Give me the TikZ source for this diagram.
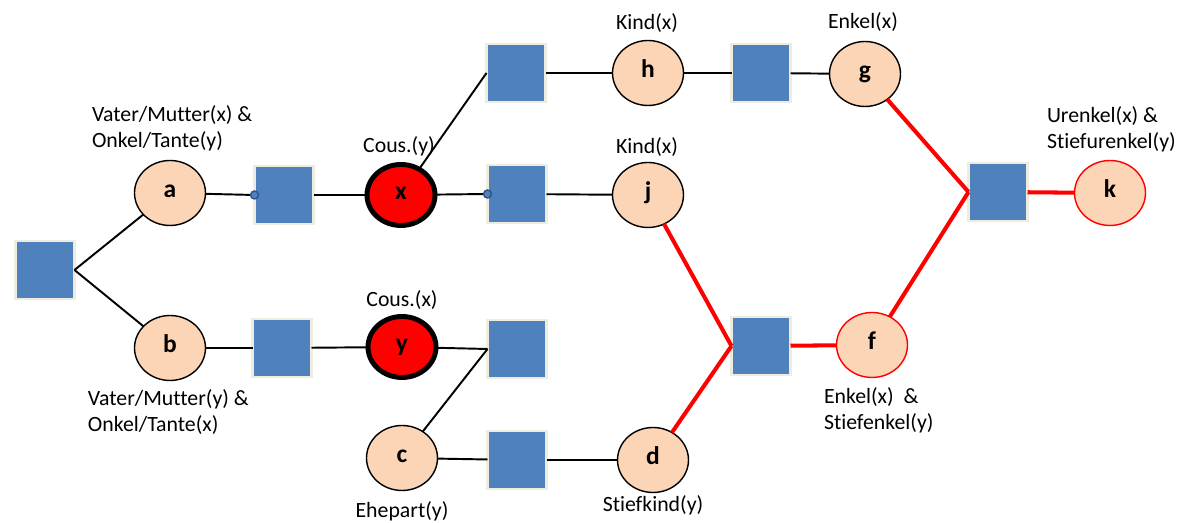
\documentclass[tikz,border=0pt]{standalone}
\usepackage{fontspec}
\setmainfont{Carlito}[Ligatures=NoCommon]
\usetikzlibrary{shapes.geometric}
\definecolor{boxblue}{RGB}{79,129,189}
\definecolor{boxrim}{RGB}{238,236,225}
\definecolor{peach}{RGB}{251,213,181}
\definecolor{dotblue}{RGB}{47,82,143}
\begin{document}
\begin{tikzpicture}[inner sep=0pt,outer sep=0pt,line width=1.1pt,
factor/.style={draw=boxrim,fill=boxblue,rectangle,line width=1.2pt,minimum width=1.18cm,minimum height=1.16cm},
person/.style={draw,ellipse,fill=peach,line width=0.8pt,minimum width=1.42cm,minimum height=1.3cm,text height=1.4ex,text depth=0.25ex,font=\fontsize{14.5}{16}\selectfont\bfseries},
cousin/.style={person,fill=red,line width=2.8pt,minimum width=1.36cm,minimum height=1.22cm},
target/.style={person,draw=red},
role/.style={font=\fontsize{12.4}{14.7}\selectfont,align=left},
redlink/.style={red,line width=2.3pt},
joint/.style={draw=dotblue,fill=boxblue,circle,line width=0.8pt,minimum size=0.16cm}]
\useasboundingbox (0,0) rectangle (23.6,10.46);
\draw (0.90,5.06) node[factor] (q0) {};
\draw (3.40,6.60) node[person] (a) {a};
\draw (3.40,3.50) node[person] (b) {b};
\draw (5.68,6.56) node[factor] (q1) {};
\draw (8.02,6.56) node[cousin] (x) {x};
\draw (5.64,3.50) node[factor] (q2) {};
\draw (8.04,3.52) node[cousin] (y) {y};
\draw (8.04,1.30) node[person] (c) {c};
\draw (10.32,9.00) node[factor] (q3) {};
\draw (10.34,6.58) node[factor] (q4) {};
\draw (10.34,3.48) node[factor] (q5) {};
\draw (10.34,1.26) node[factor] (q6) {};
\draw (12.96,9.00) node[person] (h) {h};
\draw (12.96,6.56) node[person] (j) {j};
\draw (13.06,1.26) node[person] (d) {d};
\draw (15.22,9.00) node[factor] (q7) {};
\draw (15.22,3.54) node[factor] (q8) {};
\draw (17.30,8.98) node[person] (g) {g};
\draw (17.44,3.56) node[target] (f) {f};
\draw (19.96,6.62) node[factor] (q9) {};
\draw (22.20,6.60) node[target] (k) {k};
\draw (q0.east) -- (a);
\draw (q0.east) -- (b);
\draw (a) -- (q1.west);
\draw (q1) -- (x);
\draw (x) -- (q3.west);
\draw (x) -- (q4.west);
\draw (q3) -- (h);
\draw (h) -- (q7);
\draw (q7) -- (g);
\draw (q4) -- (j);
\draw (b) -- (q2);
\draw (q2) -- (y);
\draw (y) -- (q5.west);
\draw (c) -- (q5.west);
\draw (c) -- (q6);
\draw (q6) -- (d);
\draw[redlink] (j) -- (q8.west);
\draw[redlink] (d) -- (q8.west);
\draw[redlink] (q8) -- (f);
\draw[redlink] (g) -- (q9.west);
\draw[redlink] (f) -- (q9.west);
\draw[redlink] (q9) -- (k);
\draw (q1.west) node[joint] (p1) {};
\draw (q4.west) node[joint] (p2) {};
\draw (1.84,7.90) node[role,anchor=west] (la) {Vater/Mutter(x) \&\\Onkel/Tante(y)};
\draw (7.98,7.54) node[role] (lx) {Cous.(y)};
\draw (12.94,9.99) node[role] (lh) {Kind(x)};
\draw (12.94,7.52) node[role] (lj) {Kind(x)};
\draw (17.26,10.02) node[role] (lg) {Enkel(x)};
\draw (20.94,7.88) node[role,anchor=west] (lk) {Urenkel(x) \&\\Stiefurenkel(y)};
\draw (8.04,4.46) node[role] (ly) {Cous.(x)};
\draw (1.76,2.22) node[role,anchor=west] (lb) {Vater/Mutter(y) \&\\Onkel/Tante(x)};
\draw (8.04,0.24) node[role] (lc) {Ehepart(y)};
\draw (13.06,0.36) node[role] (ld) {Stiefkind(y)};
\draw (16.48,2.26) node[role,anchor=west] (lf) {Enkel(x)\ \ \&\\Stiefenkel(y)};
\end{tikzpicture}
\end{document}
